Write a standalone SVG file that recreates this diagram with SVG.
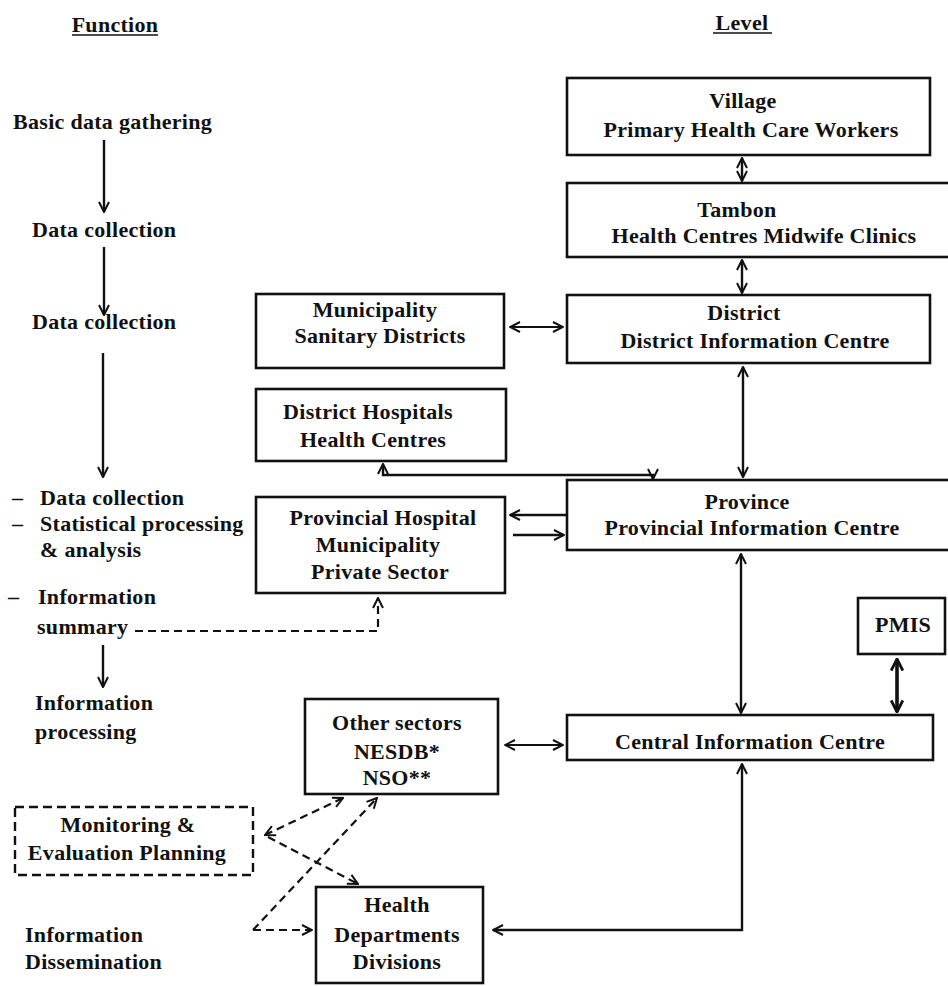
<svg xmlns="http://www.w3.org/2000/svg" width="948" height="986" viewBox="0 0 948 986">
<style>
text{font-family:"Liberation Serif","Times New Roman",serif;font-weight:bold;font-size:22px;fill:#111;letter-spacing:0.3px}
.c{text-anchor:middle}
.box{fill:none;stroke:#111;stroke-width:2.6}
.dbox{fill:none;stroke:#111;stroke-width:2.4;stroke-dasharray:9 5}
.ln{fill:none;stroke:#111;stroke-width:2.4}
.thin{fill:none;stroke:#111;stroke-width:1.8}
.thick{fill:none;stroke:#111;stroke-width:3.6}
.dl{fill:none;stroke:#111;stroke-width:2.2;stroke-dasharray:8 5}
</style>
<defs>
<marker id="ah" viewBox="0 0 12 12" refX="11" refY="6" markerWidth="12" markerHeight="12" markerUnits="userSpaceOnUse" orient="auto-start-reverse">
<path d="M1,1 L11,6 L1,11" fill="none" stroke="#111" stroke-width="2"/>
</marker>
<marker id="ahb" viewBox="0 0 12 12" refX="11" refY="6" markerWidth="14" markerHeight="14" markerUnits="userSpaceOnUse" orient="auto-start-reverse">
<path d="M1,1 L11,6 L1,11" fill="none" stroke="#111" stroke-width="2.4"/>
</marker>
</defs>
<rect width="948" height="986" fill="#fff"/>

<g id="headers">
<text class="c" x="115" y="32">Function</text>
<line x1="72" y1="35" x2="158" y2="35" stroke="#111" stroke-width="1.6"/>
<text class="c" x="742" y="30">Level</text>
<line x1="713" y1="33" x2="772" y2="33" stroke="#111" stroke-width="1.6"/>
</g>

<g id="functions">
<text x="13" y="129">Basic data gathering</text>
<text x="32" y="237">Data collection</text>
<text x="32" y="329">Data collection</text>
<text x="12" y="505">–</text><text x="40" y="505">Data collection</text>
<text x="12" y="531">–</text><text x="40" y="531">Statistical processing</text>
<text x="40" y="557">&amp; analysis</text>
<text x="8" y="604">–</text><text x="38" y="604">Information</text>
<text x="37" y="634">summary</text>
<text x="35" y="710">Information</text>
<text x="35" y="739">processing</text>
<text x="25" y="942">Information</text>
<text x="25" y="969">Dissemination</text>
</g>

<g id="village"><rect class="box" x="567" y="78" width="363" height="77"/>
<text class="c" x="743" y="108">Village</text><text class="c" x="751" y="137">Primary Health Care Workers</text></g>

<g id="tambon"><rect class="box" x="567" y="183" width="400" height="74"/>
<text class="c" x="737" y="217">Tambon</text><text class="c" x="764" y="243">Health Centres Midwife Clinics</text></g>

<g id="district"><rect class="box" x="567" y="295" width="363" height="68"/>
<text class="c" x="744" y="320">District</text><text class="c" x="755" y="348">District Information Centre</text></g>

<g id="province"><rect class="box" x="567" y="480" width="400" height="70"/>
<text class="c" x="747" y="509">Province</text><text class="c" x="752" y="535">Provincial Information Centre</text></g>

<g id="central"><rect class="box" x="567" y="715" width="366" height="45"/>
<text class="c" x="750" y="749">Central Information Centre</text></g>

<g id="pmis"><rect class="box" x="858" y="598" width="87" height="56"/>
<text class="c" x="903" y="632">PMIS</text></g>

<g id="municipality"><rect class="box" x="256" y="294" width="248" height="74"/>
<text class="c" x="375" y="317">Municipality</text><text class="c" x="380" y="343">Sanitary Districts</text></g>

<g id="districthospitals"><rect class="box" x="256" y="389" width="250" height="72"/>
<text class="c" x="368" y="419">District Hospitals</text><text class="c" x="373" y="447">Health Centres</text></g>

<g id="provincialhospital"><rect class="box" x="256" y="497" width="249" height="96"/>
<text class="c" x="383" y="525">Provincial Hospital</text><text class="c" x="378" y="552">Municipality</text><text class="c" x="380" y="579">Private Sector</text></g>

<g id="othersectors"><rect class="box" x="305" y="699" width="193" height="95"/>
<text class="c" x="397" y="730">Other sectors</text><text class="c" x="397" y="759">NESDB*</text><text class="c" x="397" y="785">NSO**</text></g>

<g id="health"><rect class="box" x="316" y="887" width="167" height="96"/>
<text class="c" x="397" y="912">Health</text><text class="c" x="397" y="942">Departments</text><text class="c" x="397" y="969">Divisions</text></g>

<g id="monitoring"><rect class="dbox" x="15" y="807" width="238" height="68"/>
<text class="c" x="128" y="832">Monitoring &amp;</text><text class="c" x="127" y="860">Evaluation Planning</text></g>

<g id="connectors">
<line class="ln" x1="104" y1="140" x2="104" y2="212" marker-end="url(#ah)"/>
<line class="ln" x1="104" y1="247" x2="104" y2="315" marker-end="url(#ah)"/>
<line class="ln" x1="103" y1="353" x2="103" y2="477" marker-end="url(#ah)"/>
<line class="ln" x1="103" y1="645" x2="103" y2="687" marker-end="url(#ah)"/>

<line class="ln" x1="742" y1="158" x2="742" y2="181" marker-start="url(#ah)" marker-end="url(#ah)"/>
<line class="ln" x1="742" y1="260" x2="742" y2="293" marker-start="url(#ah)" marker-end="url(#ah)"/>
<line class="thin" x1="510" y1="327" x2="563" y2="327" marker-start="url(#ah)" marker-end="url(#ah)"/>
<line class="ln" x1="743" y1="367" x2="743" y2="477" marker-start="url(#ah)" marker-end="url(#ah)"/>
<path class="ln" d="M383,464 L383,475 L653,475 L653,479" marker-start="url(#ah)" marker-end="url(#ah)"/>
<line class="ln" x1="566" y1="515" x2="510" y2="515" marker-end="url(#ah)"/>
<line class="ln" x1="513" y1="535" x2="564" y2="535" marker-end="url(#ah)"/>
<path class="dl" d="M135,631 L378,631 L378,598" marker-end="url(#ah)"/>
<line class="ln" x1="741" y1="554" x2="741" y2="713" marker-start="url(#ah)" marker-end="url(#ah)"/>
<line class="thick" x1="897" y1="659" x2="897" y2="712" marker-start="url(#ahb)" marker-end="url(#ahb)"/>
<line class="thin" x1="505" y1="745" x2="563" y2="745" marker-start="url(#ah)" marker-end="url(#ah)"/>
<path class="ln" d="M742,764 L742,930 L493,930" marker-start="url(#ah)" marker-end="url(#ah)"/>

<line class="dl" x1="265" y1="835" x2="343" y2="798" marker-start="url(#ah)" marker-end="url(#ah)"/>
<line class="dl" x1="268" y1="837" x2="358" y2="884" marker-end="url(#ah)"/>
<line class="dl" x1="253" y1="930" x2="377" y2="798" marker-end="url(#ah)"/>
<line class="dl" x1="253" y1="930" x2="312" y2="930" marker-end="url(#ah)"/>
</g>
</svg>
